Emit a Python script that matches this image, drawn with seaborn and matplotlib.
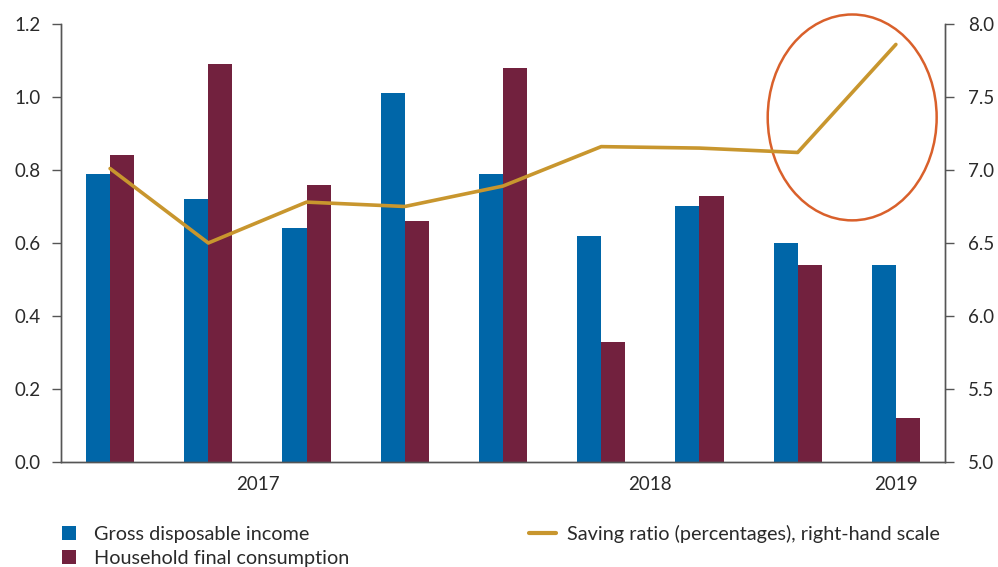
import numpy as np
import pandas as pd
import matplotlib
matplotlib.use("Agg")
import matplotlib.pyplot as plt
from matplotlib.patches import Ellipse
from matplotlib.lines import Line2D
from matplotlib.ticker import FixedLocator, FormatStrFormatter, NullFormatter
import seaborn as sns

# Quarterly data, 2017 Q1 - 2019 Q1
quarters = ["2017Q1", "2017Q2", "2017Q3", "2017Q4",
            "2018Q1", "2018Q2", "2018Q3", "2018Q4", "2019Q1"]
gross_disposable_income = [0.79, 0.72, 0.64, 1.01, 0.79, 0.62, 0.70, 0.60, 0.54]
household_consumption = [0.84, 1.09, 0.76, 0.66, 1.08, 0.33, 0.73, 0.54, 0.12]
saving_ratio = [7.01, 6.50, 6.78, 6.75, 6.89, 7.16, 7.15, 7.12, 7.86]

year_labels = ["2017", "2018", "2019"]
year_centres = [1.5, 5.5, 8.0]
year_bounds = [-0.5, 3.5, 7.5, 8.5]

name_gdi = "Gross disposable income"
name_hfc = "Household final consumption"
name_sr = "Saving ratio (percentages), right-hand scale"

BLUE = "#0066A8"
MAROON = "#72213E"
GOLD = "#C8962E"
RING = "#D9602B"
AXIS = "#555555"
TEXT = "#2a2a2a"

sns.set_theme(style="white")
plt.rcParams["font.family"] = ["Lato", "DejaVu Sans"]
plt.rcParams["text.color"] = TEXT
plt.rcParams["xtick.color"] = AXIS
plt.rcParams["ytick.color"] = AXIS
plt.rcParams["xtick.labelcolor"] = TEXT
plt.rcParams["ytick.labelcolor"] = TEXT

bars = pd.DataFrame({
    "quarter": quarters * 2,
    "value": gross_disposable_income + household_consumption,
    "series": [name_gdi] * len(quarters) + [name_hfc] * len(quarters),
})
line = pd.DataFrame({"pos": np.arange(len(quarters)), "ratio": saving_ratio})

fig = plt.figure(figsize=(9.98, 5.67), dpi=100)
ax = fig.add_axes([0.0611, 0.1852, 0.8858, 0.7725])

sns.barplot(data=bars, x="quarter", y="value", hue="series",
            palette=[BLUE, MAROON], width=0.49, gap=0, saturation=1,
            order=quarters, ax=ax, legend=False, linewidth=0)

ax.set_xlim(-0.5, 8.5)
ax.set_ylim(0, 1.2)
ax.set_yticks(np.arange(0, 1.21, 0.2))
ax.yaxis.set_major_formatter(FormatStrFormatter("%.1f"))
ax.set_xlabel("")
ax.set_ylabel("")

ax.xaxis.set_major_locator(FixedLocator(year_bounds))
ax.xaxis.set_major_formatter(NullFormatter())
ax.xaxis.set_minor_locator(FixedLocator(year_centres))
ax.set_xticklabels(year_labels, minor=True)
ax.tick_params(axis="x", which="major", length=7.5, width=1, direction="out")
ax.tick_params(axis="x", which="minor", length=0, pad=10, labelsize=13.5)
ax.tick_params(axis="y", length=6.5, width=1, pad=8, labelsize=13.5, left=True)

for side in ["left", "bottom", "right"]:
    ax.spines[side].set_color(AXIS)
    ax.spines[side].set_linewidth(1)
ax.spines["top"].set_visible(False)

ax2 = ax.twinx()
sns.lineplot(data=line, x="pos", y="ratio", color=GOLD, linewidth=2.6, ax=ax2)
ax2.set_ylim(5.0, 8.0)
ax2.set_yticks(np.arange(5.0, 8.01, 0.5))
ax2.yaxis.set_major_formatter(FormatStrFormatter("%.1f"))
ax2.set_xlim(-0.5, 8.5)
ax2.set_ylabel("")
ax2.set_xlabel("")
ax2.tick_params(axis="y", length=6.5, width=1, pad=10, labelsize=13.5, right=True)
for side in ["left", "bottom", "right"]:
    ax2.spines[side].set_color(AXIS)
    ax2.spines[side].set_linewidth(1)
ax2.spines["top"].set_visible(False)

# Highlight the latest jump in the saving ratio
ring = Ellipse((7.555, 7.36), width=1.72, height=1.41, fill=False,
               edgecolor=RING, linewidth=1.8, clip_on=False)
ax2.add_patch(ring)

handles = [
    Line2D([0], [0], linestyle="none", marker="s", markersize=10.5,
           markerfacecolor=BLUE, markeredgewidth=0),
    Line2D([0], [0], linestyle="none", marker="s", markersize=10.5,
           markerfacecolor=MAROON, markeredgewidth=0),
    Line2D([0], [0], color=GOLD, linewidth=3),
]
fig.legend(handles, [name_gdi, name_hfc, name_sr], ncol=2,
           loc="upper left", bbox_to_anchor=(0.055, 0.0744), frameon=False,
           fontsize=14.3, handlelength=1.4, handleheight=0.7,
           handletextpad=0.55, labelspacing=0.35, columnspacing=9.05,
           borderpad=0, borderaxespad=0)

fig.savefig("out.png", dpi=100)
